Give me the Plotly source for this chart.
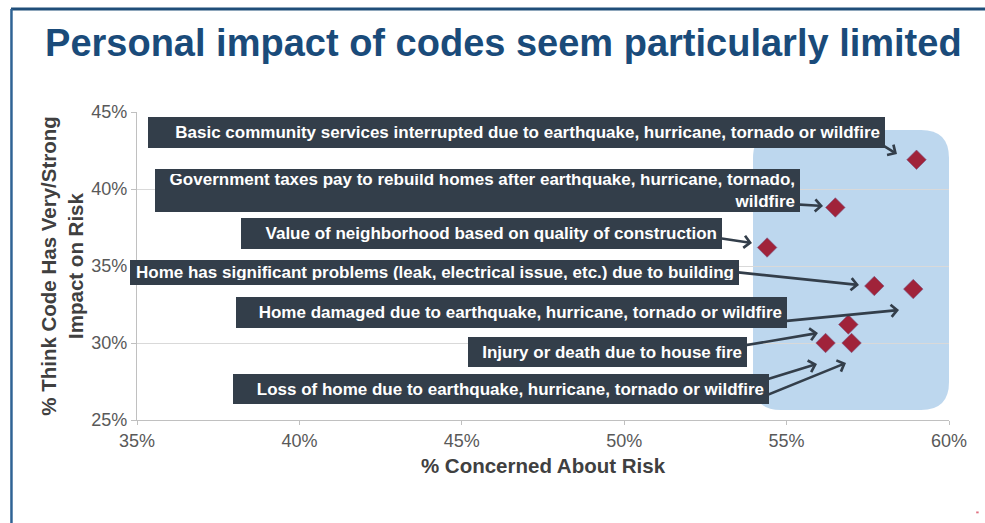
import plotly.graph_objects as go

# ---- data (percent values) ----
concerned = [59.0, 56.5, 54.4, 57.7, 58.9, 56.9, 56.2, 57.0]
impact = [41.9, 38.8, 36.2, 33.7, 33.5, 31.2, 30.0, 30.0]

labels = [
    "Basic community services interrupted due to earthquake, hurricane, tornado or wildfire",
    "Government taxes pay to rebuild homes after earthquake, hurricane, tornado,<br>wildfire",
    "Value of neighborhood based on quality of construction",
    "Home has significant problems (leak, electrical issue, etc.) due to building",
    "Home damaged due to earthquake, hurricane, tornado or wildfire",
    "Injury or death due to house fire",
    "Loss of home due to earthquake, hurricane, tornado or wildfire",
]
x_ticks = [35, 40, 45, 50, 55, 60]
x_tick_text = ["35%", "40%", "45%", "50%", "55%", "60%"]
y_ticks = [25, 30, 35, 40, 45]
y_tick_text = ["25%", "30%", "35%", "40%", "45%"]

# ---- callout layout (box centre x, y in axis units; box width/height px) ----
box_cx = [46.684, 45.483, 45.607, 44.160, 46.530, 49.478, 46.207]
box_cy = [43.669, 39.903, 37.110, 34.578, 31.997, 29.432, 27.013]
box_w = [737, 645, 481, 609, 551, 279, 536]
box_h = [31, 43, 31, 25, 31, 30, 30]

# arrows: tail (x, y) -> head (x, y) in axis units
arrow_tail_x = [57.599, 55.105, 52.703, 53.103, 54.643, 53.411, 54.027, 54.027]
arrow_tail_y = [43.312, 39.026, 36.883, 34.675, 31.364, 29.740, 27.403, 26.299]
arrow_head_x = [58.399, 56.121, 53.935, 57.229, 58.461, 55.966, 55.936, 56.829]
arrow_head_y = [42.273, 38.896, 36.494, 33.766, 32.143, 30.649, 28.636, 28.701]

FONT = "Liberation Sans, Arial, sans-serif"
BOX = "#333E4A"

fig = go.Figure()
fig.add_trace(go.Scatter(
    x=concerned, y=impact, mode="markers",
    marker=dict(symbol="diamond", size=15, color="#A0233A",
                line=dict(color="#7A5A86", width=0.6)),
    hoverinfo="x+y", showlegend=False,
))

# rounded highlight region
x0, x1, y0, y1 = 53.966, 60.0, 25.649, 43.831
rx, ry = 0.86, 1.82
path = (f"M {x0+rx},{y1} L {x1-rx},{y1} Q {x1},{y1} {x1},{y1-ry} "
        f"L {x1},{y0+ry} Q {x1},{y0} {x1-rx},{y0} L {x0+rx},{y0} "
        f"Q {x0},{y0} {x0},{y0+ry} L {x0},{y1-ry} Q {x0},{y1} {x0+rx},{y1} Z")
fig.add_shape(type="path", path=path, xref="x", yref="y", layer="below",
              fillcolor="#BDD7EE", line=dict(width=0))

# slide frame
fig.add_shape(type="line", xref="paper", yref="paper", x0=-0.1552, x1=1.05,
              y0=1.3344, y1=1.3344, line=dict(color="#1F4E79", width=3))
fig.add_shape(type="line", xref="paper", yref="paper", x0=-0.1546, x1=-0.1546,
              y0=1.3344, y1=-0.36, line=dict(color="#2F6395", width=2.5))
fig.add_shape(type="rect", xref="paper", yref="paper", x0=1.0335, x1=1.0365,
              y0=-0.297, y1=-0.303, fillcolor="#E07080", line=dict(width=0))

annotations = []
for tx, ty, hx, hy in zip(arrow_tail_x, arrow_tail_y, arrow_head_x, arrow_head_y):
    annotations.append(dict(
        x=hx, y=hy, ax=tx, ay=ty, xref="x", yref="y", axref="x", ayref="y",
        text="", showarrow=True, arrowhead=4, arrowsize=0.9, arrowwidth=2.6,
        arrowcolor=BOX,
    ))
for t, cx, cy, w, h in zip(labels, box_cx, box_cy, box_w, box_h):
    annotations.append(dict(
        x=cx, y=cy, xref="x", yref="y", text=t, showarrow=False,
        xanchor="center", yanchor="middle", align="right", valign="middle",
        width=w - 10, height=h - 10, borderpad=4, borderwidth=1,
        bordercolor=BOX, bgcolor=BOX,
        font=dict(family=FONT, size=17, color="white", weight="bold"),
    ))
fig.update_layout(annotations=annotations)

fig.update_layout(
    width=985, height=523,
    margin=dict(l=137, r=36, t=112, b=103),
    paper_bgcolor="white", plot_bgcolor="white",
    font=dict(family=FONT),
    title=dict(text="Personal impact of codes seem particularly limited",
               xref="container", yref="container", x=0.511, xanchor="center",
               y=1 - 43 / 523, yanchor="middle",
               font=dict(family=FONT, size=38, color="#1A4B7A", weight="bold")),
    xaxis=dict(range=[35, 60], tickmode="array", tickvals=x_ticks,
               ticktext=x_tick_text,
               showgrid=False, zeroline=False, showline=True,
               linecolor="#C0C0C0", linewidth=1.2, ticks="outside", ticklen=4,
               tickcolor="#C0C0C0",
               tickfont=dict(family=FONT, size=18, color="#595959"),
               title=dict(text="% Concerned About Risk", standoff=8,
                          font=dict(family=FONT, size=20.5, color="#404040",
                                    weight="bold"))),
    yaxis=dict(range=[25, 45], tickmode="array", tickvals=y_ticks,
               ticktext=y_tick_text,
               showgrid=True, gridcolor="#D9D9D9", gridwidth=1.2,
               zeroline=False, showline=True, linecolor="#C0C0C0",
               linewidth=1.2, ticks="outside", ticklen=5, tickcolor="#C0C0C0",
               tickfont=dict(family=FONT, size=18, color="#595959"),
               title=dict(text="% Think Code Has Very/Strong<br>Impact on Risk",
                          standoff=2,
                          font=dict(family=FONT, size=20.5, color="#404040",
                                    weight="bold"))),
)

fig.write_html("out.html")
